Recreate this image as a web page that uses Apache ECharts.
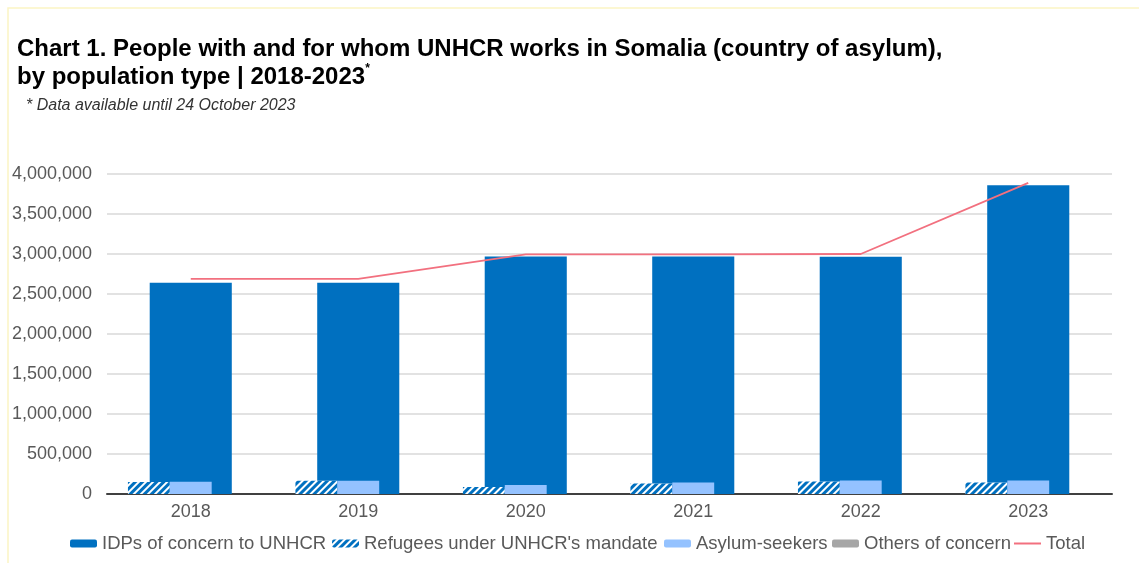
<!DOCTYPE html>
<html>
<head>
<meta charset="utf-8">
<script src="https://cdn.jsdelivr.net/npm/echarts@6/dist/echarts.min.js"></script>
<style>
html,body{margin:0;padding:0;background:#fff;}
#chart{width:1139px;height:563px;}
</style>
</head>
<body>
<div id="chart"></div>
<script>
var years = ['2018', '2019', '2020', '2021', '2022', '2023'];
var idps = [2640000, 2640000, 2970000, 2970000, 2965000, 3860000];
var refugees = [149000, 167000, 87000, 130000, 157000, 143000];
var asylumSeekers = [153000, 167000, 113000, 143000, 170000, 170000];
var othersOfConcern = [0, 0, 0, 0, 0, 0];
var totals = [2690000, 2690000, 2995000, 2995000, 3000000, 3890000];
var yTicks = [0, 500000, 1000000, 1500000, 2000000, 2500000, 3000000, 3500000, 4000000];

var FONT = '"Liberation Sans", Arial, sans-serif';
var chart = echarts.init(document.getElementById('chart'), null, {renderer: 'canvas'});

function legendAt(name, left, extra) {
  var l = {
    data: [name], left: left, top: 529, itemWidth: 27, itemHeight: 8, itemGap: 0,
    textStyle: {fontFamily: FONT, fontSize: 18.5, color: '#595959'}
  };
  if (extra) { for (var k in extra) { l[k] = extra[k]; } }
  return l;
}

var option = {
  backgroundColor: '#ffffff',
  animation: false,
  graphic: [{
    type: 'rect', shape: {x: 8, y: 8, width: 1140, height: 560},
    style: {fill: 'none', stroke: '#FBF5C4', lineWidth: 1.5}, silent: true
  }],
  title: [{
    text: 'Chart 1. People with and for whom UNHCR works in Somalia (country of asylum),\nby population type | 2018-2023{sup|*}',
    left: 12, top: 30,
    textStyle: {
      fontFamily: FONT, fontSize: 24, fontWeight: 'bold', color: '#000', lineHeight: 28,
      rich: {sup: {fontFamily: FONT, fontSize: 12, fontWeight: 'bold', color: '#000', verticalAlign: 'top', lineHeight: 28, padding: [0, 0, 10, 0]}}
    }
  }, {
    text: '* Data available until 24 October 2023',
    left: 21, top: 93,
    textStyle: {fontFamily: FONT, fontSize: 16, fontStyle: 'italic', fontWeight: 'normal', color: '#333'}
  }],
  legend: [
    legendAt('IDPs of concern to UNHCR', 65),
    legendAt("Refugees under UNHCR's mandate", 327),
    legendAt('Asylum-seekers', 659),
    legendAt('Others of concern', 827),
    legendAt('Total', 1009, {data: [{name: 'Total', icon: 'rect'}], itemHeight: 2})
  ],
  grid: {left: 107, right: 27, top: 174, bottom: 69, containLabel: false},
  xAxis: [{
    type: 'category', data: years, position: 'bottom',
    axisLine: {show: true, lineStyle: {color: '#404040', width: 2}},
    axisTick: {show: false},
    axisLabel: {fontFamily: FONT, fontSize: 18, color: '#595959', margin: 9},
    splitLine: {show: false}
  }, {
    type: 'category', data: years, position: 'bottom', show: false
  }],
  yAxis: {
    type: 'value', min: yTicks[0], max: yTicks[yTicks.length - 1], interval: yTicks[1] - yTicks[0],
    axisLine: {show: false}, axisTick: {show: false},
    axisLabel: {fontFamily: FONT, fontSize: 18, color: '#595959', margin: 15,
      formatter: function (v) { return v.toLocaleString('en-US'); }},
    splitLine: {lineStyle: {color: '#D9D9D9', width: 1.5}}
  },
  series: [{
    name: 'IDPs of concern to UNHCR', type: 'bar', xAxisIndex: 0, data: idps,
    barWidth: '49%', itemStyle: {color: '#0070C0'}
  }, {
    name: "Refugees under UNHCR's mandate", type: 'bar', xAxisIndex: 1, data: refugees,
    barGap: '0%', barCategoryGap: '25%',
    itemStyle: {color: '#ffffff', decal: {
      symbol: 'rect', symbolSize: 1, dashArrayX: [1, 0], dashArrayY: [3, 2],
      rotation: -Math.PI / 4, color: '#0070C0'
    }}
  }, {
    name: 'Asylum-seekers', type: 'bar', xAxisIndex: 1, data: asylumSeekers,
    barGap: '0%', barCategoryGap: '25%', itemStyle: {color: '#94C2FF'}
  }, {
    name: 'Others of concern', type: 'bar', xAxisIndex: 1, data: othersOfConcern,
    barGap: '0%', barCategoryGap: '25%', itemStyle: {color: '#A6A6A6'}
  }, {
    name: 'Total', type: 'line', xAxisIndex: 0, data: totals,
    symbol: 'none', showSymbol: false, z: 5,
    lineStyle: {color: '#F2707F', width: 1.8}, itemStyle: {color: '#F2707F'}
  }]
};
chart.setOption(option);
</script>
</body>
</html>
